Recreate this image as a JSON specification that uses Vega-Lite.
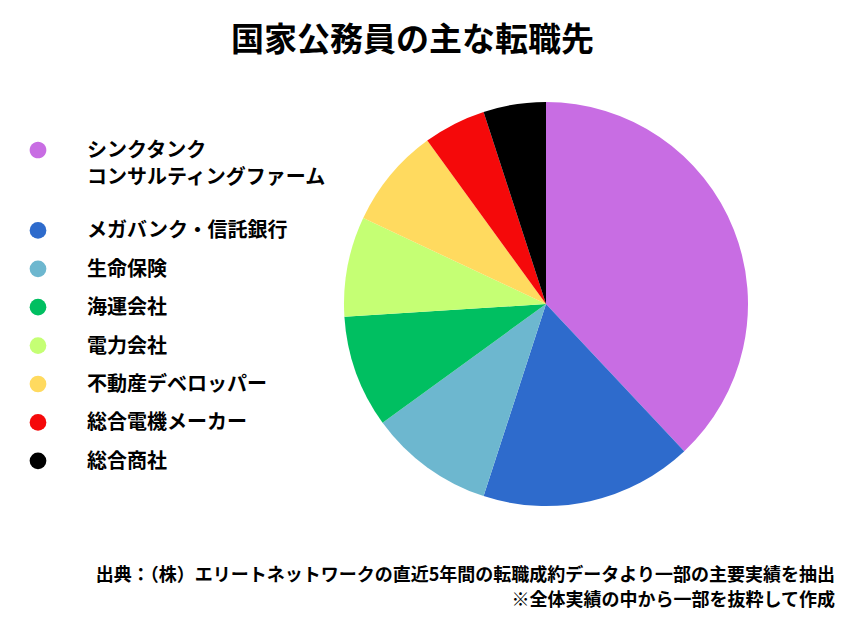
{
  "$schema": "https://vega.github.io/schema/vega-lite/v6.json",
  "description": "国家公務員の主な転職先",
  "background": "white",
  "padding": {"left": 28, "top": 25, "right": 10, "bottom": 10},
  "title": {
    "text": "国家公務員の主な転職先",
    "anchor": "middle",
    "font": "Noto Sans CJK JP",
    "fontSize": 33,
    "fontWeight": "bold",
    "color": "#000000",
    "offset": 44,
    "dx": -19
  },
  "data": {
    "values": [
      {"label": "シンクタンク コンサルティングファーム", "share": 38},
      {"label": "メガバンク・信託銀行", "share": 17},
      {"label": "生命保険", "share": 10},
      {"label": "海運会社", "share": 9},
      {"label": "電力会社", "share": 8},
      {"label": "不動産デベロッパー", "share": 8},
      {"label": "総合電機メーカー", "share": 5},
      {"label": "総合商社", "share": 5}
    ]
  },
  "transform": [
    {"window": [{"op": "row_number", "as": "rank"}]}
  ],
  "vconcat": [
    {
      "width": 404,
      "height": 404,
      "title": {
        "text": [
          "出典：（株）エリートネットワークの直近5年間の転職成約データより一部の主要実績を抽出",
          "※全体実績の中から一部を抜粋して作成"
        ],
        "orient": "bottom",
        "anchor": "end",
        "align": "right",
        "font": "Noto Sans CJK JP",
        "fontSize": 18,
        "fontWeight": "bold",
        "color": "#000000",
        "lineHeight": 25,
        "offset": 61,
        "dx": 87
      },
      "mark": {"type": "arc"},
      "encoding": {
        "theta": {"field": "share", "type": "quantitative", "stack": true},
        "order": {"field": "rank", "type": "quantitative", "sort": "ascending"},
        "color": {
          "field": "label",
          "type": "nominal",
          "sort": [
            "シンクタンク コンサルティングファーム",
            "メガバンク・信託銀行",
            "生命保険",
            "海運会社",
            "電力会社",
            "不動産デベロッパー",
            "総合電機メーカー",
            "総合商社"
          ],
          "scale": {
            "range": ["#C86DE3", "#2E6BCC", "#6DB7CF", "#00BF61", "#C5FF74", "#FFDA5F", "#F5090A", "#000000"]
          },
          "legend": {
            "title": null,
            "orient": "none",
            "legendX": -316,
            "legendY": 38,
            "padding": 0,
            "symbolType": "circle",
            "symbolSize": 279,
            "symbolStrokeWidth": 0,
            "labelOffset": 39,
            "labelFont": "Noto Sans CJK JP",
            "labelFontSize": 20,
            "labelFontWeight": "bold",
            "labelColor": "#000000",
            "labelLimit": 400,
            "rowPadding": 17.4,
            "labelExpr": "split(datum.label, ' ')",
            "labelBaseline": "top",
            "encode": {
              "symbols": {
                "update": {
                  "shape": {"signal": "indexof(datum.value, ' ') > 0 ? 'M1,0A1,1,0,1,1,-1,0A1,1,0,1,1,1,0ZM0,6.24' : 'circle'"}
                }
              },
              "labels": {"update": {"lineHeight": {"value": 27}, "dy": {"value": -9}}}
            }
          }
        }
      }
    }
  ],
  "config": {"view": {"stroke": null}}
}
